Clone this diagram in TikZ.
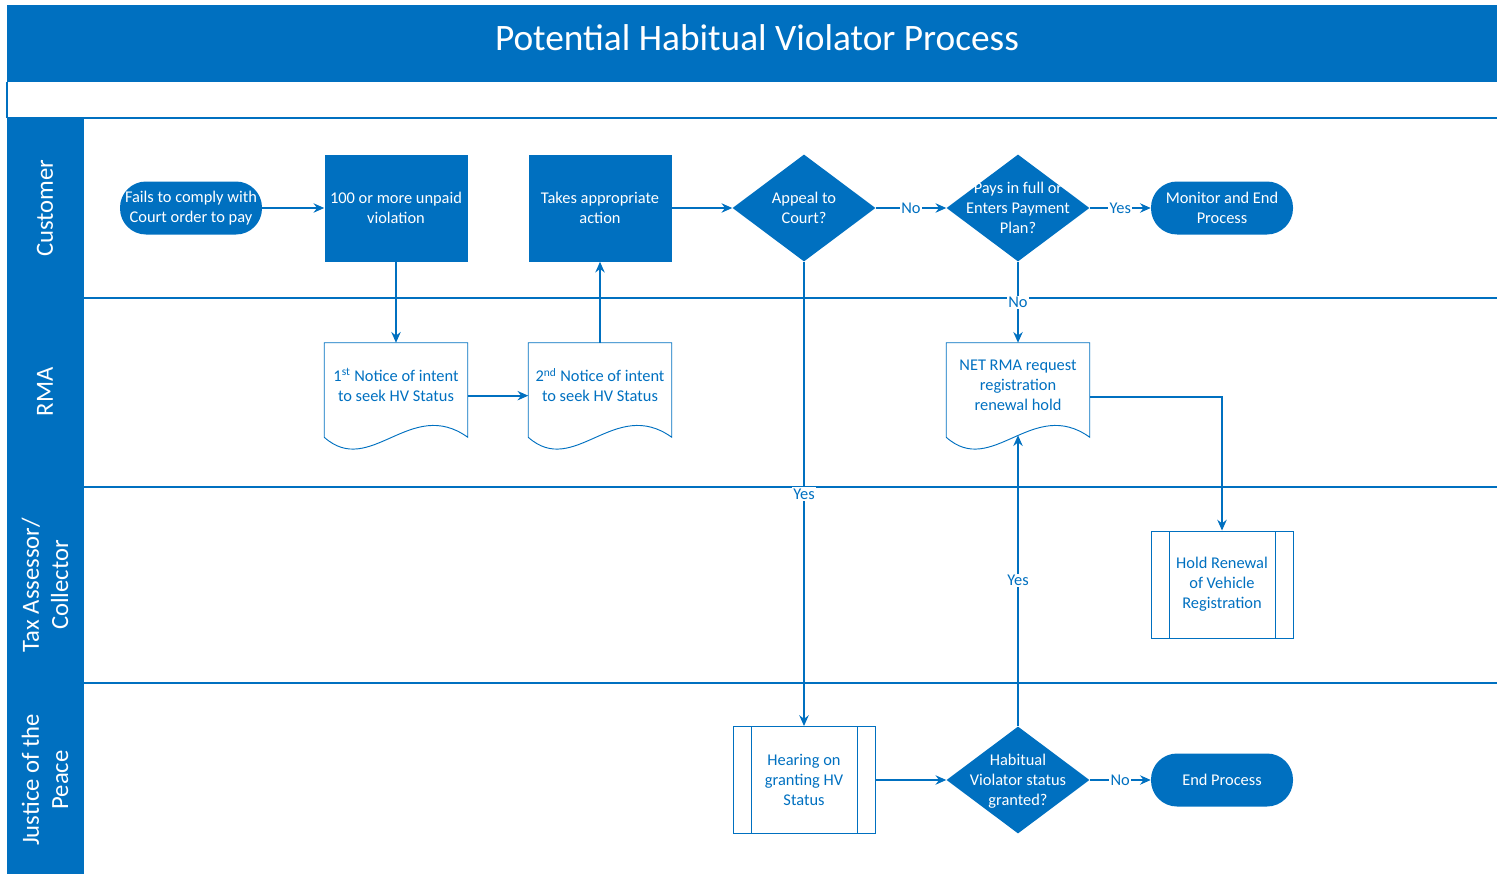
\documentclass[tikz,border=0pt]{standalone}
\usepackage{fontspec}
\setmainfont{Carlito}
\usetikzlibrary{shapes.geometric,arrows.meta,calc}
\definecolor{hvblue}{RGB}{0,112,192}
\newcommand{\dtext}[1]{\makebox[0pt]{\raisebox{-7.8pt}{\smash{\begin{tabular}{@{}c@{}}#1\end{tabular}}}}}
\tikzset{
  lanerule/.style={draw=hvblue,line width=1.5pt},
  lanename/.style={rotate=90,text=white,align=center,font=\fontsize{18.5}{22}\selectfont},
  terminal/.style={fill=hvblue,text=white,rounded corners=19.5pt,minimum width=106.5pt,
    minimum height=39.75pt,inner sep=1pt,align=center},
  task/.style={fill=hvblue,text=white,minimum width=107.25pt,minimum height=80.25pt,
    inner sep=2pt,align=center},
  decision/.style={diamond,fill=hvblue,text=white,minimum width=107.25pt,
    minimum height=80.25pt,inner sep=0pt},
  doctext/.style={text=hvblue,minimum width=107.25pt,minimum height=63pt,align=center},
  subproc/.style={draw=hvblue,line width=.7pt,text=hvblue,minimum width=106.5pt,
    minimum height=80.25pt,align=center,
    path picture={
      \draw[hvblue,line width=.7pt]
        ([xshift=13.5pt]path picture bounding box.north west) -- ([xshift=13.5pt]path picture bounding box.south west)
        ([xshift=-13.5pt]path picture bounding box.north east) -- ([xshift=-13.5pt]path picture bounding box.south east);
    }},
  flow/.style={draw=hvblue,line width=1.4pt,-{Stealth[length=8pt,width=7pt]}},
  answer/.style={fill=white,text=hvblue,inner sep=1pt}
}

\begin{document}
\begin{tikzpicture}[x=0.75pt,y=-0.75pt,font=\fontsize{12.3}{15}\selectfont]
  \useasboundingbox (0,0) rectangle (1497,874);

  % pool and lanes
  \fill[hvblue] (7,5) rectangle (1497,82);
  \node[text=white,font=\fontsize{28}{32}\selectfont] (title) at (757,38) {Potential Habitual Violator Process};
  \draw[hvblue,line width=.8pt] (7,82) -- (7,118);
  \fill[hvblue] (7,118) rectangle (84,874);
  \draw[lanerule] (7,118) -- (1497,118);
  \foreach \y in {298,487,683}
    \draw[lanerule] (84,\y) -- (1497,\y);
  \node[lanename] (customer) at (45,208) {Customer};
  \node[lanename] (rma) at (45,392) {RMA};
  \node[lanename] (tax) at (45,585) {Tax Assessor/\\Collector};
  \node[lanename] (jp) at (45,780) {Justice of the\\Peace};

  % customer lane
  \node[terminal] (fails) at (191,208) {Fails to comply with\\Court order to pay};
  \node[task] (unpaid) at (396,208) {100 or more unpaid\\violation};
  \node[task] (action) at (600,208) {Takes appropriate\\action};
  \node[decision] (appeal) at (804,208) {\dtext{Appeal to\\Court?}};
  \node[decision] (pays) at (1018,208) {\dtext{Pays in full or\\Enters Payment\\Plan?}};
  \node[terminal] (monitor) at (1222,208) {Monitor and End\\Process};

  % rma lane
  \node[doctext] (notice1) at (396,385) {1\textsuperscript{st} Notice of intent\\to seek HV Status};
  \node[doctext] (notice2) at (600,385) {2\textsuperscript{nd} Notice of intent\\to seek HV Status};
  \node[doctext] (netrma) at (1018,385) {NET RMA request\\registration\\renewal hold};
  \foreach \d in {notice1,notice2,netrma}
    \draw[hvblue,line width=.7pt] ($(\d.south west)+(0,10)$) -- (\d.north west) -- (\d.north east)
      -- ($(\d.south east)+(0,10)$) .. controls +(-57,-41) and +(46,41) .. ($(\d.south west)+(0,10)$);

  % tax assessor and justice lanes
  \node[subproc] (holdren) at (1222,584.5) {Hold Renewal\\of Vehicle\\Registration};
  \node[subproc] (hearing) at (804,780) {Hearing on\\granting HV\\Status};
  \node[decision] (habitual) at (1018,780) {\dtext{Habitual\\Violator status\\granted?}};
  \node[terminal] (endp) at (1222,780) {End Process};

  % connectors
  \draw[flow] (fails) -- (unpaid);
  \draw[flow] (unpaid) -- (notice1);
  \draw[flow] ([yshift=-8pt]notice1.east) -- ([yshift=-8pt]notice2.west);
  \draw[flow] (notice2) -- (action);
  \draw[flow] (action) -- (appeal);
  \draw[flow] (appeal) -- node[answer] {No} (pays);
  \draw[flow] (pays) -- node[answer] {Yes} (monitor);
  \draw[flow] (pays) -- node[answer] {No} (netrma);
  \draw[flow] ([yshift=-9pt]netrma.east) -| (holdren.north);
  \draw[flow] (appeal) -- node[answer] {Yes} (hearing);
  \draw[flow] (hearing) -- (habitual);
  \draw[flow] (habitual) -- node[answer] {No} (endp);
  \draw[flow] (habitual) -- node[answer] {Yes} ($(netrma.south)+(0,8)$);
\end{tikzpicture}
\end{document}
